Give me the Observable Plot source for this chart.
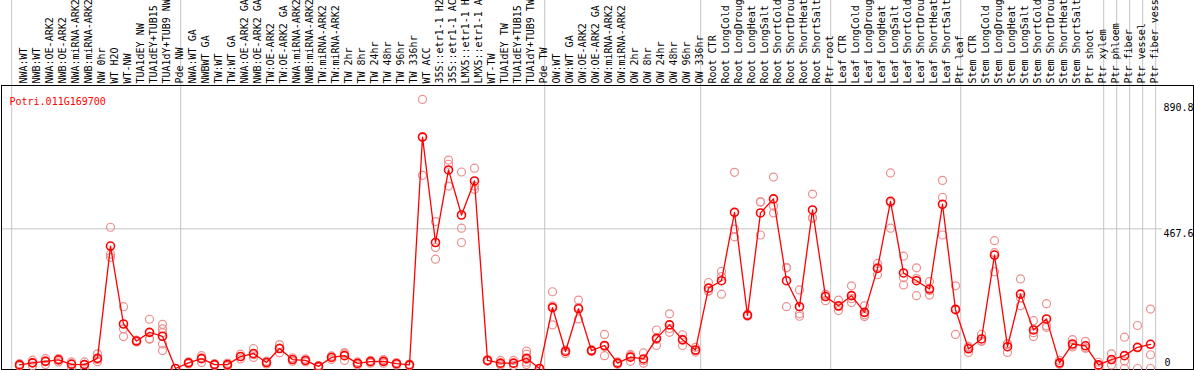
<!DOCTYPE html>
<html>
<head>
<meta charset="utf-8">
<script src="https://cdn.jsdelivr.net/npm/d3@7"></script>
<script src="https://cdn.jsdelivr.net/npm/@observablehq/plot@0.6"></script>
<style>
  html, body { margin: 0; padding: 0; background: white; }
  #chart svg { display: block; }
</style>
</head>
<body>
<div id="chart"></div>
<script>
const geneId = "Potri.011G169700";

// sample labels as they appear in the header (long names are truncated there)
const labels = [
  "NWA:WT", "NWB:WT", "NWA:OE-ARK2", "NWB:OE-ARK2", "NWA:miRNA-ARK2", "NWB:miRNA-ARK2",
  "NW 0hr", "WT H2O", "WT-NW", "TUA1dEY NW", "TUA1dEY+TUB15", "TUA1dY+TUB9 NW", "Pde NW",
  "NWA:WT GA", "NWBWT GA", "TW:WT", "TW:WT GA", "NWA:OE-ARK2 GA", "NWB:OE-ARK2 GA",
  "TW:OE-ARK2", "TW:OE-ARK2 GA", "NWA:miRNA-ARK2", "NWB:miRNA-ARK2", "TW:miRNA-ARK2",
  "TW:miRNA-ARK2", "TW 2hr", "TW 8hr", "TW 24hr", "TW 48hr", "TW 96hr", "TW 336hr",
  "WT ACC", "35S::etr1-1 H2", "35S::etr1-1 AC", "LMX5::etr1-1 H", "LMX5::etr1-1 A",
  "WT-TW", "TUA1dEY TW", "TUA1dEY+TUB15", "TUA1dY+TUB9 TW", "Pde TW",
  "OW:WT", "OW:WT GA", "OW:OE-ARK2", "OW:OE-ARK2 GA", "OW:miRNA-ARK2", "OW:miRNA-ARK2",
  "OW 2hr", "OW 8hr", "OW 24hr", "OW 48hr", "OW 96hr", "OW 336hr",
  "Root CTR", "Root LongCold", "Root LongDroug", "Root LongHeat", "Root LongSalt",
  "Root ShortCold", "Root ShortDrou", "Root ShortHeat", "Root ShortSalt", "Ptr root",
  "Leaf CTR", "Leaf LongCold", "Leaf LongDroug", "Leaf LongHeat", "Leaf LongSalt",
  "Leaf ShortCold", "Leaf ShortDrou", "Leaf ShortHeat", "Leaf ShortSalt", "Ptr leaf",
  "Stem CTR", "Stem LongCold", "Stem LongDroug", "Stem LongHeat", "Stem LongSalt",
  "Stem ShortCold", "Stem ShortDrou", "Stem ShortHeat", "Stem ShortSalt", "Ptr shoot",
  "Ptr xylem", "Ptr phloem", "Ptr fiber", "Ptr vessel", "Ptr fiber vess"
];

const means = [
  12, 19, 24, 29, 14, 13, 34, 410, 149, 92, 121, 108, 0,
  19, 33, 13, 13, 40, 50, 20, 67, 30, 27, 7, 37, 43, 17, 23, 24, 16, 12,
  775, 422, 665, 514, 628, 27, 18, 18, 34, 0,
  204, 57, 200, 60, 77, 18, 38, 32, 101, 146, 96, 62,
  269, 294, 523, 178, 521, 568, 294, 207, 531, 241,
  210, 244, 188, 335, 560, 320, 294, 266, 550, 197,
  66, 99, 380, 73, 249, 129, 166, 19, 82, 76,
  12, 30, 43, 71, 81
];

const replicates = [
  [8, 16, 12], [28, 9, 20], [33, 13, 26], [33, 22, 32], [22, 4, 16], [22, 3, 14],
  [49, 30, 23], [473, 383, 372], [207, 133, 107], [95, 92, 89], [165, 100, 98],
  [148, 133, 120, 82, 60], [0, 0, 0],
  [22, 15, 20], [43, 20, 36], [16, 10, 13], [18, 8, 13], [48, 32, 40], [67, 37, 46],
  [25, 15, 20], [80, 53, 68], [36, 24, 30], [32, 22, 27], [10, 4, 7], [42, 30, 39],
  [53, 27, 49], [22, 12, 17], [27, 18, 24], [30, 18, 24], [20, 12, 16], [15, 9, 12],
  [901, 647, 777], [492, 405, 366], [698, 684, 611], [658, 470, 422], [671, 611, 600],
  [30, 24, 27], [27, 12, 15], [27, 10, 17], [58, 48, 30, 21, 13], [0, 0, 0],
  [257, 146, 210], [62, 50, 59], [229, 166, 205], [63, 57, 60], [114, 43, 74],
  [22, 14, 18], [47, 24, 43], [52, 18, 26], [129, 77, 97], [183, 121, 134],
  [113, 77, 98], [71, 55, 60],
  [288, 260, 259], [325, 249, 308], [657, 467, 441], [182, 176, 176], [558, 558, 447],
  [641, 544, 521], [338, 337, 207], [263, 183, 175], [584, 503, 506], [249, 227, 247],
  [229, 194, 207], [277, 221, 234], [210, 180, 174], [352, 314, 339], [655, 470, 555],
  [376, 304, 280], [337, 244, 301], [291, 246, 261], [630, 447, 573], [277, 114, 200],
  [54, 70, 74], [114, 92, 91], [428, 324, 388], [54, 82, 83], [300, 210, 237],
  [160, 107, 120], [217, 138, 143], [27, 14, 16], [97, 72, 77], [91, 68, 69],
  [21, 8, 7], [49, 12, 29], [105, 25, 0], [144, 69, 0], [199, 46, 0]
];

// index of the last sample in each group (separators drawn after them)
const groupEnds = [-1, 12, 40, 52, 62, 72, 83, 84, 85, 86, 87];
const yTicks = [890.8, 467.6, 0];
const gridTicks = [467.6];

const repPoints = replicates.flatMap((vals, i) => vals.map(v => ({i, v})));
const meanPoints = means.map((v, i) => ({i, v}));

const chart = Plot.plot({
  width: 1194,
  height: 370,
  marginTop: 85,
  marginBottom: 1,
  marginLeft: 1,
  marginRight: 1,
  style: {fontFamily: "'DejaVu Sans Mono', monospace", fontSize: "10px", background: "white"},
  x: {type: "linear", domain: [0, labels.length - 1], range: [19, 1150], axis: null},
  y: {type: "linear", domain: [0, d3.max(yTicks)], range: [368, 102], axis: null},
  marks: [
    Plot.ruleY(gridTicks, {y: d => d, stroke: "#c4c4c4", strokeWidth: 1, insetRight: 31}),
    Plot.ruleX(groupEnds, {x: d => d + 0.4, stroke: "#c4c4c4", strokeWidth: 1, insetTop: -85}),
    Plot.frame({stroke: "black", strokeWidth: 1}),
    Plot.text(labels, {
      x: (d, i) => i, frameAnchor: "top", rotate: -90, textAnchor: "start",
      dy: -2, fill: "black", text: d => d
    }),
    Plot.text([geneId], {frameAnchor: "top-left", dx: 8, dy: 12, fill: "red", textAnchor: "start", text: d => d}),
    Plot.text(yTicks.filter(t => t > 0), {
      y: d => d, frameAnchor: "right", dx: -30, dy: 5, textAnchor: "start",
      fill: "black", text: d => String(d)
    }),
    Plot.text(yTicks.filter(t => t === 0), {
      y: d => d, frameAnchor: "right", dx: -29, dy: -6, textAnchor: "start",
      fill: "black", text: d => String(d)
    }),
    Plot.dot(repPoints, {x: "i", y: "v", r: 4, stroke: "#ec8f8f", strokeWidth: 1.2, fill: "none"}),
    Plot.line(meanPoints, {x: "i", y: "v", stroke: "#ff0000", strokeWidth: 1.3}),
    Plot.dot(meanPoints, {x: "i", y: "v", r: 4, stroke: "#ff0000", strokeWidth: 1.6, fill: "none"})
  ]
});

document.getElementById("chart").appendChild(chart);
</script>
</body>
</html>
